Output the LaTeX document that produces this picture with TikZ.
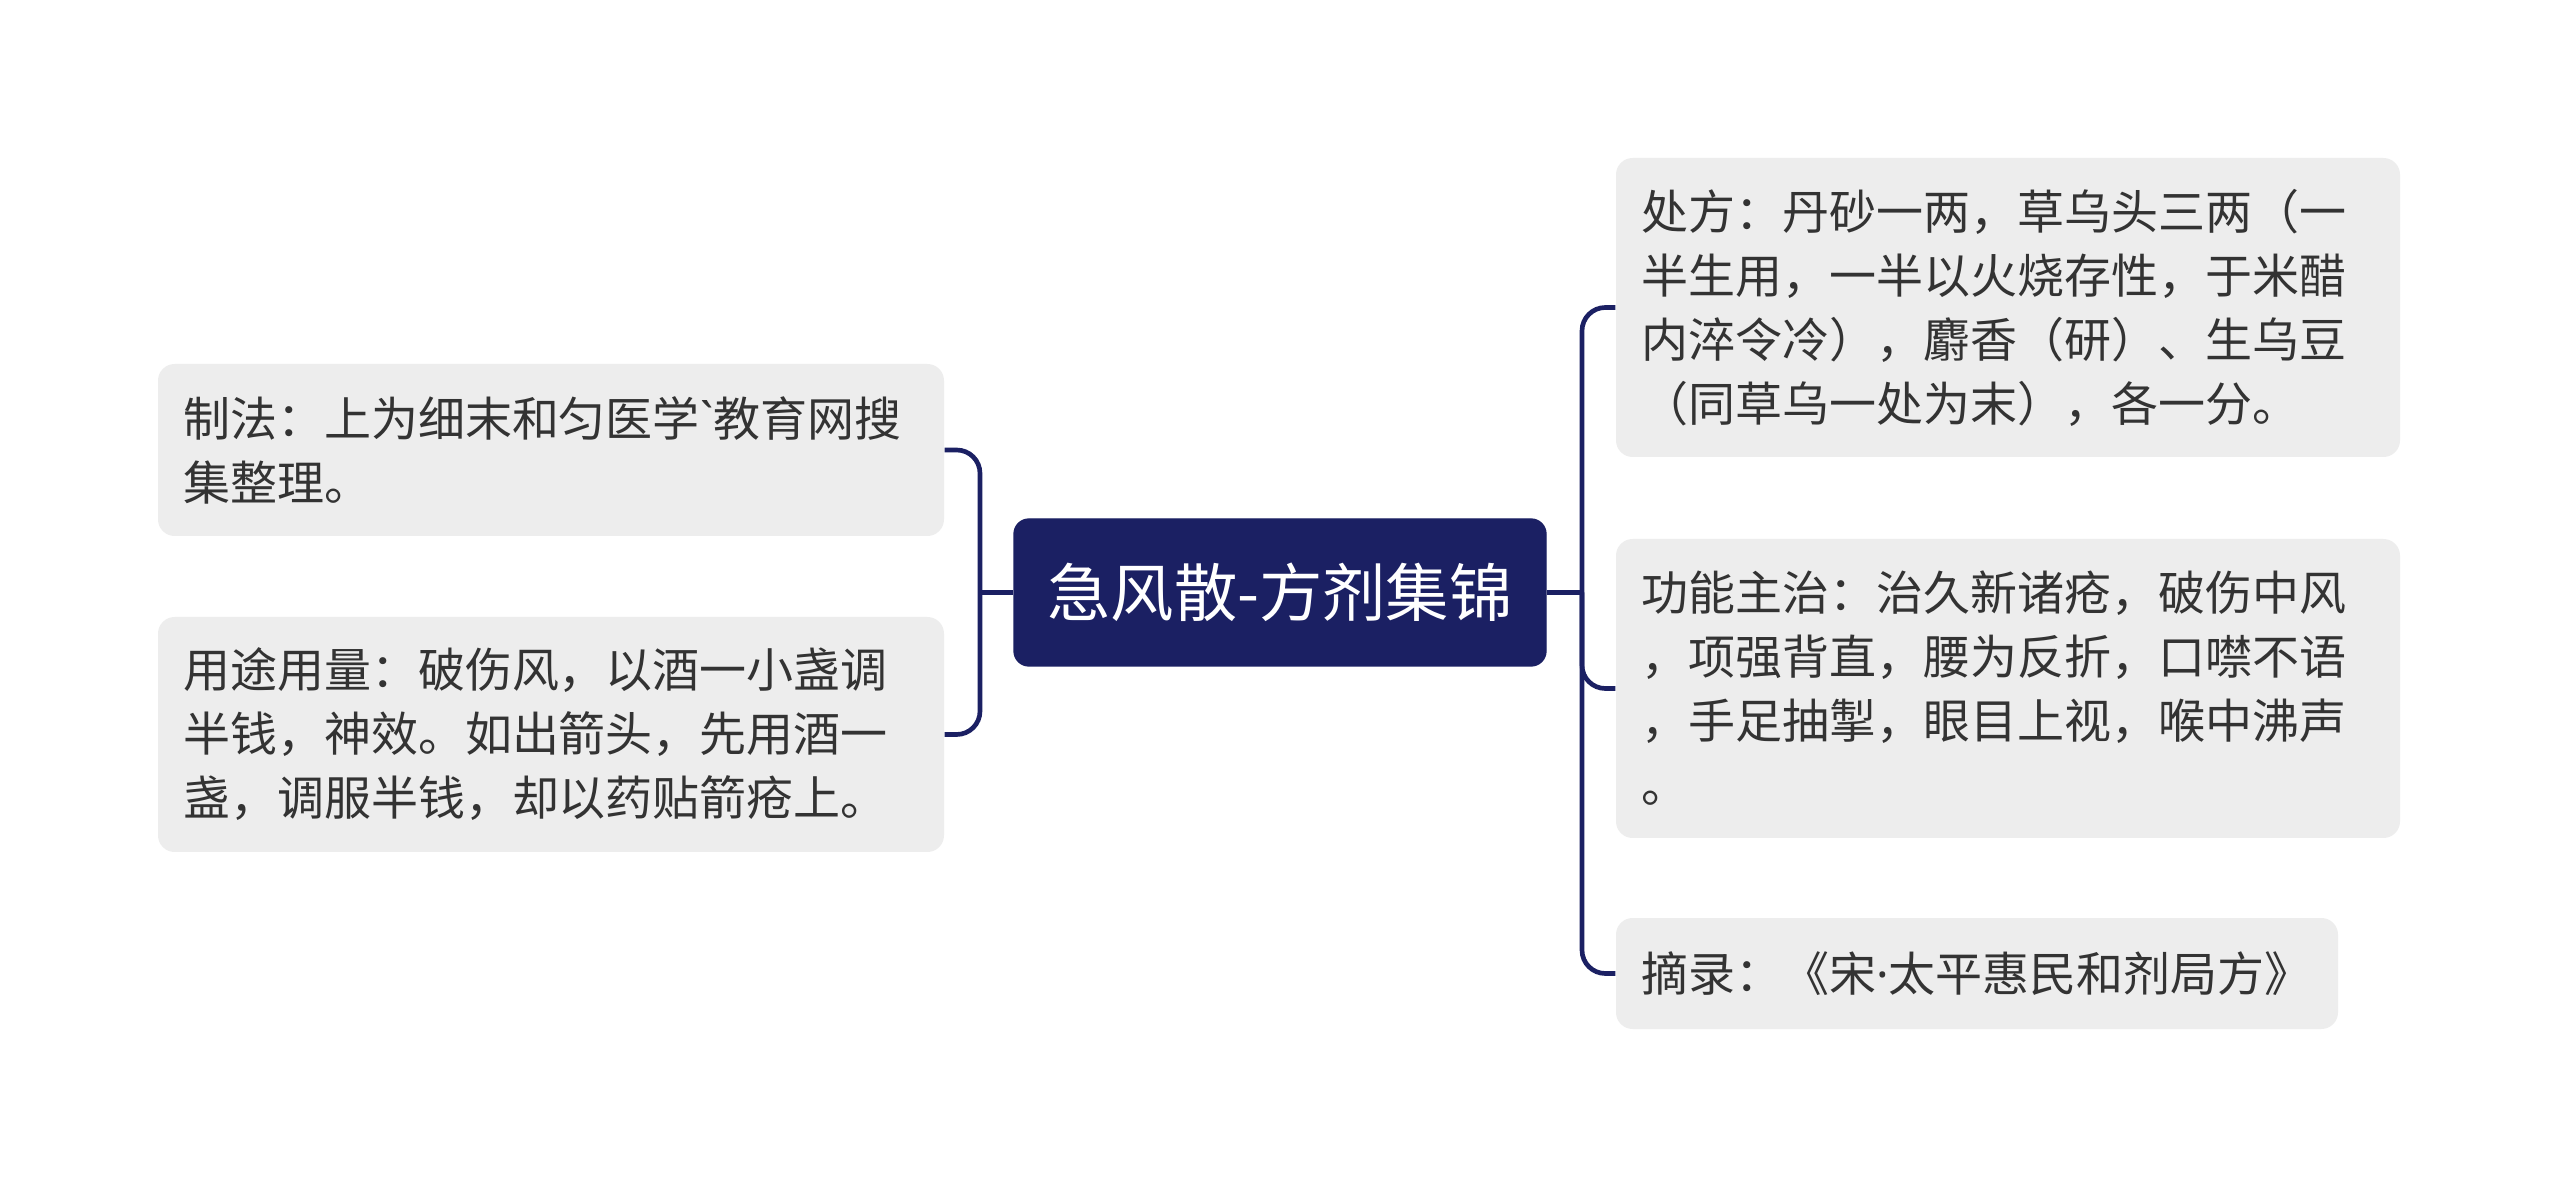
\documentclass[tikz,border=0pt]{standalone}
\usepackage{fontspec}
\setmainfont{Noto Sans CJK SC}
\newfontfamily\latinfont{Noto Sans}
\definecolor{navy}{HTML}{1B2063}
\definecolor{boxgray}{HTML}{EDEDED}
\definecolor{txt}{HTML}{333333}
\begin{document}
\begin{tikzpicture}[x=0.3pt,y=-0.3pt,
  leaf/.style={rectangle, rounded corners=5pt, fill=boxgray, text=txt, align=left,
    inner xsep=7.5pt, inner ysep=0pt, anchor=center,
    font=\fontsize{14.1pt}{19.2pt}\selectfont},
  rootbox/.style={rectangle, rounded corners=4.5pt, fill=navy, draw=navy, text=white,
    minimum width=159.6pt, minimum height=44.1pt, inner sep=0pt,
    font=\fontsize{19pt}{22pt}\selectfont},
  conn/.style={draw=navy, line width=1.4pt, rounded corners=7pt}]
\useasboundingbox (0,0) rectangle (2560,1187);
\fill[white] (0,0) rectangle (2560,1187);

\node[rootbox] (root) at (1280,592.5) {急风散-方剂集锦};

\node[leaf, text width=220.8pt, minimum height=51.6pt] (L1) at (551,450)
  {制法：上为细末和匀医学{\latinfont\char"60}教育网搜\\集整理。};
\node[leaf, text width=220.8pt, minimum height=70.5pt] (L2) at (551,734.5)
  {用途用量：破伤风，以酒一小盏调\\半钱，神效。如出箭头，先用酒一\\盏，调服半钱，却以药贴箭疮上。};

\node[leaf, text width=220.2pt, minimum height=89.7pt] (R1) at (2008,307.5)
  {处方：丹砂一两，草乌头三两（一\\半生用，一半以火烧存性，于米醋\\内淬令冷），麝香（研）、生乌豆\\（同草乌一处为末），各一分。};
\node[leaf, text width=220.2pt, minimum height=89.7pt] (R2) at (2008,688.5)
  {功能主治：治久新诸疮，破伤中风\\，项强背直，腰为反折，口噤不语\\，手足抽掣，眼目上视，喉中沸声\\。};
\node[leaf, text width=201.6pt, minimum height=33.3pt] (R3) at (1977,973.5)
  {摘录：《宋{\latinfont ·}太平惠民和剂局方》};

\coordinate (lj) at (980,592.5);
\coordinate (rj) at (1582,592.5);

\draw[conn] (root.west) -- (lj);
\draw[conn] (L1.east) -| (lj) |- (L2.east);
\draw[conn] (root.east) -- (rj);
\draw[conn] (R1.west) -| (rj) |- (R3.west);
\draw[conn] (rj) |- (R2.west);
\end{tikzpicture}
\end{document}
